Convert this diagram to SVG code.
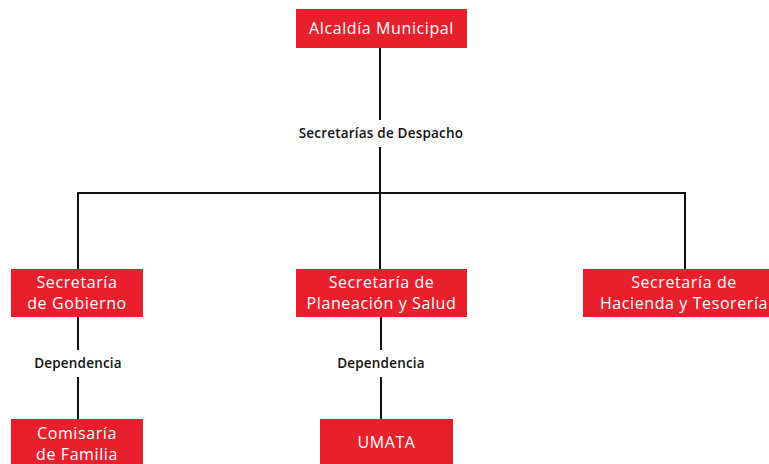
<svg xmlns="http://www.w3.org/2000/svg" width="769" height="464" viewBox="0 0 769 464">
<style>
.box{fill:#E8202D}
.bt{font-family:"Open Sans","Noto Sans",sans-serif;font-size:16px;font-weight:500;letter-spacing:0.6px;fill:#fff;text-anchor:middle}
.lb{font-family:"Open Sans","Noto Sans",sans-serif;font-size:13.5px;font-weight:600;letter-spacing:0.2px;fill:#111;text-anchor:middle}
.ln{stroke:#111;stroke-width:2;fill:none}
</style>
<rect width="769" height="464" fill="#fff"/>
<g id="connectors">
<path class="ln" d="M380 48V120"/>
<path class="ln" d="M380 147V193"/>
<path class="ln" d="M78 269V193H685V269"/>
<path class="ln" d="M380 193V269"/>
<path class="ln" d="M78 317V350"/>
<path class="ln" d="M78 377V419"/>
<path class="ln" d="M381 317V350"/>
<path class="ln" d="M381 377V419"/>
</g>
<g id="label-despacho"><text class="lb" x="381" y="138">Secretarías de Despacho</text></g>
<g id="label-dep1"><text class="lb" x="78" y="368">Dependencia</text></g>
<g id="label-dep2"><text class="lb" x="381" y="368">Dependencia</text></g>
<g id="alcaldia">
<rect class="box" x="296" y="9" width="171" height="39"/>
<text class="bt" x="381.5" y="34">Alcaldía Municipal</text>
</g>
<g id="gobierno">
<rect class="box" x="11" y="269" width="132" height="48"/>
<text class="bt" x="77" y="288">Secretaría</text>
<text class="bt" x="77" y="309">de Gobierno</text>
</g>
<g id="planeacion">
<rect class="box" x="296" y="269" width="171" height="48"/>
<text class="bt" x="381.5" y="288">Secretaría de</text>
<text class="bt" x="381.5" y="309">Planeación y Salud</text>
</g>
<g id="hacienda">
<rect class="box" x="583" y="269" width="200" height="48"/>
<text class="bt" x="684" y="288">Secretaría de</text>
<text class="bt" x="684" y="309">Hacienda y Tesorería</text>
</g>
<g id="comisaria">
<rect class="box" x="11" y="419" width="132" height="50"/>
<text class="bt" x="77" y="439">Comisaría</text>
<text class="bt" x="77" y="460">de Familia</text>
</g>
<g id="umata">
<rect class="box" x="320" y="419" width="133" height="50"/>
<text class="bt" x="386.5" y="448">UMATA</text>
</g>
</svg>
